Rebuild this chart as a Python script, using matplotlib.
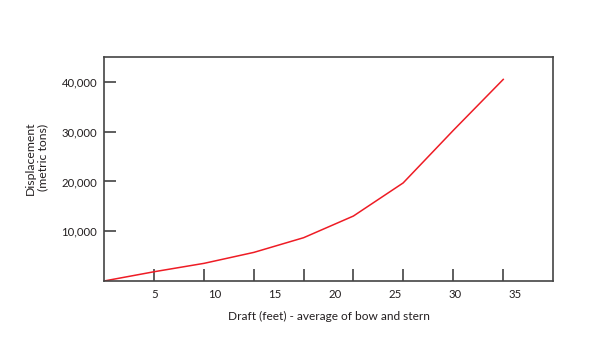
import numpy as np
import matplotlib
matplotlib.use('Agg')
import matplotlib.pyplot as plt
from matplotlib.ticker import FixedLocator, FuncFormatter

# Dati
draft = [0.75, 4.95, 9.1, 13.25, 17.4, 21.55, 25.7, 29.9, 34.05]
displacement = [0, 1870, 3550, 5750, 8700, 13050, 19700, 30300, 40500]

draft_labels = [5, 10, 15, 20, 25, 30, 35]
disp_ticks = [10000, 20000, 30000, 40000]

plt.rcParams['font.family'] = ['Lato', 'DejaVu Sans']
txt = '#231f20'

fig = plt.figure(figsize=(5.9, 3.45), dpi=100)
ax = fig.add_axes([0.1763, 0.1855, 0.7610, 0.6493])

ax.plot(draft, displacement, color='#ee1c25', linewidth=1.1)

ax.set_xlim(0.75, 38.2)
ax.set_ylim(0, 45000)

# etichette asse x (senza tacca) e tacche asse x (senza etichetta)
ax.xaxis.set_major_locator(FixedLocator(draft_labels))
ax.xaxis.set_minor_locator(FixedLocator(draft[1:]))
ax.tick_params(axis='x', which='major', length=0, pad=6, labelsize=8.2, colors=txt)
ax.tick_params(axis='x', which='minor', direction='in', length=8.5, width=1.1, color='#333333')

ax.yaxis.set_major_locator(FixedLocator(disp_ticks))
ax.yaxis.set_major_formatter(FuncFormatter(lambda v, p: '{:,.0f}'.format(v)))
ax.tick_params(axis='y', direction='in', length=8.5, width=1.1, pad=5,
               labelsize=8.2, color='#333333', labelcolor=txt)

for s in ax.spines.values():
    s.set_color('#444444')
    s.set_linewidth(1.2)

ax.set_xlabel('Draft (feet) - average of bow and stern', fontsize=8.6, color=txt, labelpad=8)
ax.set_ylabel('Displacement\n(metric tons)', fontsize=8.8, color=txt, linespacing=1.2)
ax.yaxis.set_label_coords(-0.123, 0.55)

fig.savefig('out.png', dpi=100)
plt.close(fig)
